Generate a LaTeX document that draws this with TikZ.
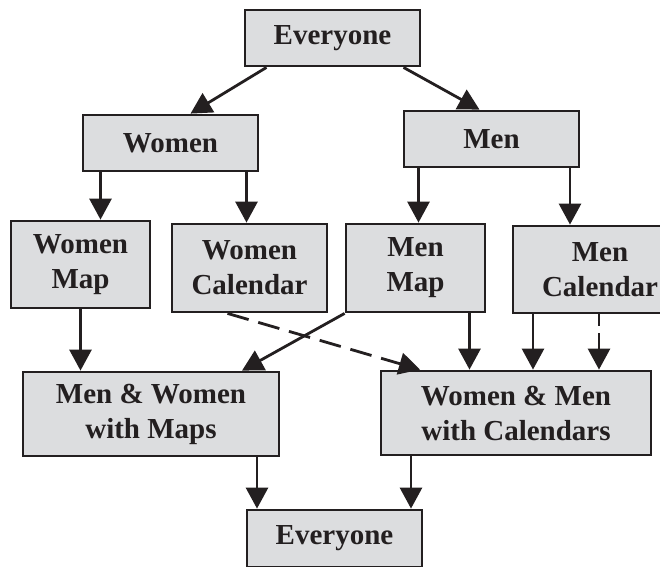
\documentclass[tikz,border=0pt]{standalone}
\usepackage{fontspec}
\setmainfont{Liberation Serif}
\usetikzlibrary{arrows.meta,positioning}
\definecolor{boxfill}{HTML}{DCDDDF}
\definecolor{ink}{HTML}{231F20}

\begin{document}
\begin{tikzpicture}[x=1pt,y=-1pt,
  box/.style={draw=ink,line width=2.8pt,fill=boxfill,text=ink,inner sep=0pt,align=center,
    font=\bfseries\fontsize{29}{35}\selectfont},
  arr/.style={-{Triangle[width=22pt,length=21pt]},line width=2.8pt,ink},
]
  \useasboundingbox (0,0) rectangle (660,566);
  \clip (0,0) rectangle (660,566);

  \node[box,minimum width=175pt,minimum height=56pt] (ev) at (332.5,38) {Everyone};
  \node[box,minimum width=175pt,minimum height=56pt] (wo) at (170.5,143) {Women};
  \node[box,minimum width=175pt,minimum height=56pt] (me) at (491.5,139) {Men};

  \node[box,minimum width=139pt,minimum height=87pt] (wmap) at (80.5,264.5) {Women\\Map};
  \node[box,minimum width=155pt,minimum height=88pt] (wcal) at (249.5,268) {Women\\Calendar};
  \node[box,minimum width=139pt,minimum height=88pt] (mmap) at (415.5,268) {Men\\Map};
  \node[box,minimum width=174pt,minimum height=87pt] (mcal) at (600,269.5) {Men\\Calendar};

  \node[box,minimum width=256pt,minimum height=84pt] (maps) at (151,414) {Men \& Women\\with Maps};
  \node[box,minimum width=270pt,minimum height=84pt] (cals) at (516,413) {Women \& Men\\with Calendars};
  \node[box,minimum width=175pt,minimum height=57pt] (all) at (334.5,538.5) {Everyone};

  \draw[arr] ([xshift=-66pt]ev.south) -- ([xshift=20pt]wo.north);
  \draw[arr] ([xshift=71pt]ev.south) -- ([xshift=-12pt]me.north);

  \draw[arr] ([xshift=20pt]wmap.north |- wo.south) -- ([xshift=20pt]wmap.north);
  \draw[arr] ([xshift=-3pt]wcal.north |- wo.south) -- ([xshift=-3pt]wcal.north);
  \draw[arr] ([xshift=3pt]mmap.north |- me.south) -- ([xshift=3pt]mmap.north);
  \draw[arr] ([xshift=-30pt]mcal.north |- me.south) -- ([xshift=-30pt]mcal.north);

  \draw[arr] (wmap.south) -- (wmap.south |- maps.north);
  \draw[arr] (mmap.south west) -- ([xshift=91pt]maps.north);
  \draw[arr,dash pattern=on 22pt off 10pt] ([xshift=-22pt]wcal.south) -- ([xshift=-96pt]cals.north);
  \draw[arr] ([xshift=54pt]mmap.south) -- ([xshift=54pt]mmap.south |- cals.north);
  \draw[arr] ([xshift=-67pt]mcal.south) -- ([xshift=-67pt]mcal.south |- cals.north);
  \draw[arr,dash pattern=on 12pt off 7pt on 40pt] ([xshift=-1pt]mcal.south) -- ([xshift=-1pt]mcal.south |- cals.north);

  \draw[arr] ([xshift=106pt]maps.south) -- ([xshift=106pt]maps.south |- all.north);
  \draw[arr] ([xshift=-105pt]cals.south) -- ([xshift=-105pt]cals.south |- all.north);
\end{tikzpicture}
\end{document}
